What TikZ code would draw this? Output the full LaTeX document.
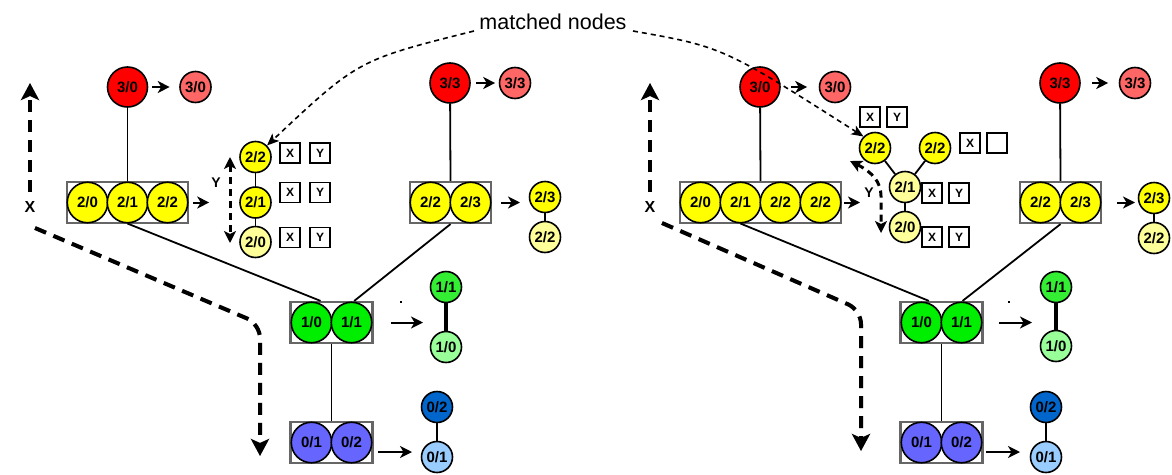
\documentclass[tikz,border=0pt]{standalone}
\usepackage{fontspec}
\setmainfont{Liberation Sans}
\usetikzlibrary{arrows.meta,calc}
\definecolor{cred}{HTML}{FF0000}
\definecolor{cpink}{HTML}{FF6666}
\definecolor{cyel}{HTML}{FFFF00}
\definecolor{clyel}{HTML}{FFFF99}
\definecolor{cgrn}{HTML}{00EE00}
\definecolor{cgrn2}{HTML}{33EE33}
\definecolor{clgrn}{HTML}{99FF99}
\definecolor{cblu}{HTML}{6666FF}
\definecolor{cdblu}{HTML}{0066CC}
\definecolor{clblu}{HTML}{99CCFF}
\begin{document}
\begin{tikzpicture}[x=1pt,y=-1pt,
  base/.style={circle,draw=black,line width=1.6pt,inner sep=0pt,font=\bfseries\fontsize{15}{15}\selectfont},
  big/.style={base,minimum size=40pt},
  sml/.style={base,minimum size=31pt},
  inb/.style={base,minimum size=40.5pt},
  frame/.style={rectangle,draw=black!60,line width=2.2pt,minimum height=41pt,inner sep=0pt},
  xy/.style={rectangle,draw=black,line width=1.3pt,minimum size=20pt,inner sep=0pt,font=\bfseries\fontsize{12}{12}\selectfont},
  link/.style={line width=1.8pt},
  arr/.style={line width=2pt,-{Stealth[length=12pt,width=12pt,inset=3.5pt]}},
  yarr/.style={line width=3pt,dash pattern=on 7pt off 5pt,{Stealth[length=12pt,width=12pt,inset=3pt]}-{Stealth[length=12pt,width=12pt,inset=3pt]}},
  xarr/.style={line width=4pt,dash pattern=on 12pt off 8pt,rounded corners=14pt,-{Stealth[length=17pt,width=18pt,inset=4pt]}},
  xshadow/.style={xarr,draw=black!22,shift={(1.8,1.8)}},
  match/.style={line width=1.6pt,dash pattern=on 5pt off 4pt,-{Stealth[length=12pt,width=10pt,inset=3pt]}},
  axlbl/.style={font=\bfseries\fontsize{16}{16}\selectfont,inner sep=0pt}
]
\useasboundingbox (0,0) rectangle (1172,474);

% ================= LEFT =================
\coordinate (LXb) at (30,192);
\coordinate (LXt) at (30,83);
\coordinate (LDs) at (35,228);
\coordinate (LDc) at (260,324);
\coordinate (LDe) at (260,456);
\draw[xshadow] (LXb) -- (LXt);
\draw[xshadow] (LDs) -- (LDc) -- (LDe);
\draw[xarr] (LXb) -- (LXt);
\draw[xarr] (LDs) -- (LDc) -- (LDe);
\node[axlbl] (LXl) at (30,207) {X};

% level 3
\node[big,fill=cred] (L30) at (127.5,87) {3/0};
\node[sml,fill=cpink] (L30s) at (195.5,87) {3/0};
\node[big,fill=cred] (L33) at (450,83) {3/3};
\node[sml,fill=cpink] (L33s) at (515,83) {3/3};

% level 2 boxes
\node[frame,minimum width=121pt] (Lyb) at (127.5,202.5) {};
\node[inb,fill=cyel] (Ly0) at (87.5,202.5) {2/0};
\node[inb,fill=cyel] (Ly1) at (127.5,202.5) {2/1};
\node[inb,fill=cyel] (Ly2) at (167.5,202.5) {2/2};
\node[frame,minimum width=81pt] (Lzb) at (450.5,202.5) {};
\node[inb,fill=cyel] (Lz2) at (430.5,202.5) {2/2};
\node[inb,fill=cyel] (Lz3) at (470.5,202.5) {2/3};

% left chain
\node[sml,fill=cyel] (Lc22) at (255.5,157) {2/2};
\node[sml,fill=cyel] (Lc21) at (255.5,202.5) {2/1};
\node[sml,fill=clyel] (Lc20) at (255.5,242) {2/0};
\draw[link] (Lc22) -- (Lc21);
\draw[link] (Lc21) -- (Lc20);
\node[xy] (LxA) at (290,153) {X};
\node[xy] (LyA) at (320,153) {Y};
\node[xy] (LxB) at (290,192.5) {X};
\node[xy] (LyB) at (320,192.5) {Y};
\node[xy] (LxC) at (290,237.5) {X};
\node[xy] (LyC) at (320,237.5) {Y};
\coordinate (LYt) at (230,157);
\coordinate (LYb) at (230,243);
\draw[yarr] (LYt) -- (LYb);
\node[axlbl,font=\bfseries\fontsize{14}{14}\selectfont] (LYl) at (216,183) {Y};

% right chain (left diagram)
\node[sml,fill=cyel] (Ld23) at (545,197) {2/3};
\node[sml,fill=clyel] (Ld22) at (545,237) {2/2};
\draw[link] (Ld23) -- (Ld22);

% level 1
\node[frame,minimum width=82pt] (Lgb) at (331.5,322.5) {};
\node[inb,fill=cgrn] (Lg0) at (311.5,322.5) {1/0};
\node[inb,fill=cgrn] (Lg1) at (351.5,322.5) {1/1};
\node[sml,fill=cgrn2] (Lg11) at (446,287) {1/1};
\node[sml,fill=clgrn] (Lg10) at (446,347) {1/0};
\draw[line width=3.4pt] (Lg11) -- (Lg10);
\fill (400,301) rectangle (402,302.5);

% level 0
\node[frame,minimum width=82pt] (Lbb) at (331.5,442.5) {};
\node[inb,fill=cblu] (Lb1) at (311.5,442.5) {0/1};
\node[inb,fill=cblu] (Lb2) at (351.5,442.5) {0/2};
\node[sml,fill=cdblu] (Lb02) at (437,407) {0/2};
\node[sml,fill=clblu] (Lb01) at (437,457) {0/1};
\draw[line width=1.8pt] (Lb02) -- (Lb01);

% tree links
\draw[link] (L30) -- (Lyb.north);
\draw[link] (L33) -- (Lzb.north);
\draw[link] (Ly1.south) -- ($(Lgb.north west)!0.37!(Lgb.north east)$);
\draw[link] (Lzb.south) -- ($(Lgb.north west)!0.77!(Lgb.north east)$);
\draw[link] (Lgb.south) -- (Lbb.north);

% arrows
\draw[arr,shorten <=4pt,shorten >=9.5pt] (L30) -- (L30s);
\draw[arr,shorten <=5pt,shorten >=3.5pt] (L33) -- (L33s);
\draw[arr,shorten <=4pt,shorten >=30pt] (Lyb.east) -- (Lc21.west);
\coordinate (LzE) at (520,202.5);
\draw[arr,shorten <=9pt] (Lzb.east) -- (LzE);
\coordinate (LgE) at (423,322.5);
\draw[arr,shorten <=17pt] (Lgb.east) -- (LgE);
\coordinate (LbS) at (378,452);
\coordinate (LbE) at (412,452);
\draw[arr] (LbS) -- (LbE);

% ================= RIGHT =================
\coordinate (RXb) at (650,192);
\coordinate (RXt) at (650,83);
\coordinate (RDs) at (662,223);
\coordinate (RDc) at (861,310);
\coordinate (RDe) at (861,451);
\draw[xshadow] (RXb) -- (RXt);
\draw[xshadow] (RDs) -- (RDc) -- (RDe);
\draw[xarr] (RXb) -- (RXt);
\draw[xarr] (RDs) -- (RDc) -- (RDe);
\node[axlbl] (RXl) at (650,207) {X};

\node[big,fill=cred] (R30) at (760,87) {3/0};
\node[sml,fill=cpink] (R30s) at (835,87) {3/0};
\node[big,fill=cred] (R33) at (1060,83) {3/3};
\node[sml,fill=cpink] (R33s) at (1135,83) {3/3};

\node[frame,minimum width=161pt] (Ryb) at (760.5,202.5) {};
\node[inb,fill=cyel] (Ry0) at (700.5,202.5) {2/0};
\node[inb,fill=cyel] (Ry1) at (740.5,202.5) {2/1};
\node[inb,fill=cyel] (Ry2) at (780.5,202.5) {2/2};
\node[inb,fill=cyel] (Ry3) at (820.5,202.5) {2/2};
\node[frame,minimum width=81pt] (Rzb) at (1060.5,202.5) {};
\node[inb,fill=cyel] (Rz2) at (1040.5,202.5) {2/2};
\node[inb,fill=cyel] (Rz3) at (1080.5,202.5) {2/3};

% right tree chain
\node[sml,fill=cyel] (Re22a) at (875,148) {2/2};
\node[sml,fill=cyel] (Re22b) at (935,148) {2/2};
\node[sml,fill=clyel] (Re21) at (905,187) {2/1};
\node[sml,fill=clyel] (Re20) at (905,227) {2/0};
\draw[link] (Re21) -- (Re22a);
\draw[link] (Re21) -- (Re22b);
\draw[link] (Re21) -- (Re20);
\node[xy] (RxA) at (870,117) {X};
\node[xy] (RyA) at (897,117) {Y};
\node[xy] (RxB) at (970,143) {X};
\node[xy] (RyB) at (997,143) {};
\node[xy] (RxC) at (932,193) {X};
\node[xy] (RyC) at (959,193) {Y};
\node[xy] (RxD) at (932,237) {X};
\node[xy] (RyD) at (959,237) {Y};
\coordinate (RYt) at (850,161);
\coordinate (RYm) at (881,196);
\coordinate (RYb) at (881,233);
\draw[yarr] (RYt) .. controls (872,172) and (881,182) .. (RYm) -- (RYb);
\node[axlbl,font=\bfseries\fontsize{14}{14}\selectfont] (RYl) at (869,193) {Y};

\node[sml,fill=cyel] (Rd23) at (1154,198) {2/3};
\node[sml,fill=clyel] (Rd22) at (1154,238) {2/2};
\draw[link] (Rd23) -- (Rd22);

\node[frame,minimum width=82pt] (Rgb) at (941.5,322.5) {};
\node[inb,fill=cgrn] (Rg0) at (921.5,322.5) {1/0};
\node[inb,fill=cgrn] (Rg1) at (961.5,322.5) {1/1};
\node[sml,fill=cgrn2] (Rg11) at (1056,287) {1/1};
\node[sml,fill=clgrn] (Rg10) at (1056,346) {1/0};
\draw[line width=3.4pt] (Rg11) -- (Rg10);
\fill (1008,301) rectangle (1010,302.5);

\node[frame,minimum width=82pt] (Rbb) at (941.5,442.5) {};
\node[inb,fill=cblu] (Rb1) at (921.5,442.5) {0/1};
\node[inb,fill=cblu] (Rb2) at (961.5,442.5) {0/2};
\node[sml,fill=cdblu] (Rb02) at (1046,407) {0/2};
\node[sml,fill=clblu] (Rb01) at (1046,457) {0/1};
\draw[line width=1.8pt] (Rb02) -- (Rb01);

\draw[link] (R30) -- (Ryb.north);
\draw[link] (R33) -- (Rzb.north);
\draw[link] (Ry1.south) -- ($(Rgb.north west)!0.35!(Rgb.north east)$);
\draw[link] (Rzb.south) -- ($(Rgb.north west)!0.75!(Rgb.north east)$);
\draw[link] (Rgb.south) -- (Rbb.north);

\draw[arr,shorten <=10pt,shorten >=11.5pt] (R30) -- (R30s);
\draw[arr,shorten <=11pt,shorten >=10.5pt] (R33) -- (R33s);
\coordinate (RyE) at (860,202.5);
\draw[arr,shorten <=2pt] (Ryb.east) -- (RyE);
\coordinate (RzE) at (1135,202.5);
\draw[arr,shorten <=15pt] (Rzb.east) -- (RzE);
\coordinate (RgE) at (1032,322.5);
\draw[arr,shorten <=15.5pt] (Rgb.east) -- (RgE);
\coordinate (RbS) at (986,452);
\coordinate (RbE) at (1020,452);
\draw[arr] (RbS) -- (RbE);

% ================= matched nodes =================
\node[font=\fontsize{21.5}{21.5}\selectfont,inner sep=0pt] (lbl) at (553,22) {matched nodes};
\coordinate (mL) at (474,31);
\coordinate (mR) at (633,31);
\draw[match] (mL) .. controls (358,60) .. (Lc22.45);
\draw[match] (mR) .. controls (723,47) .. (Re22a.135);
\end{tikzpicture}
\end{document}
